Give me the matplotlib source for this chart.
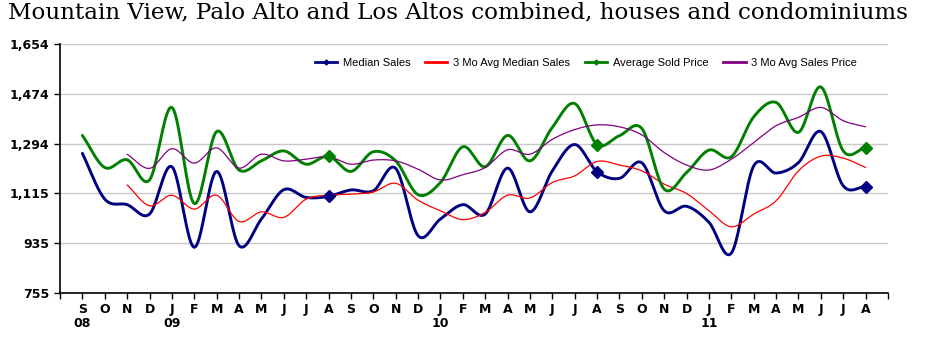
import numpy as np
import matplotlib.pyplot as plt
from matplotlib.ticker import FuncFormatter

# Sep 2008 .. Aug 2011
months = ['S', 'O', 'N', 'D', 'J', 'F', 'M', 'A', 'M', 'J', 'J', 'A',
          'S', 'O', 'N', 'D', 'J', 'F', 'M', 'A', 'M', 'J', 'J', 'A',
          'S', 'O', 'N', 'D', 'J', 'F', 'M', 'A', 'M', 'J', 'J', 'A']
years = {0: '08', 4: '09', 16: '10', 28: '11'}

median_sales = [1259, 1094, 1074, 1040, 1211, 920, 1194, 926, 1022, 1128, 1100, 1104,
                1127, 1124, 1205, 962, 1022, 1074, 1040, 1206, 1048, 1196, 1291, 1193,
                1169, 1225, 1052, 1068, 1010, 899, 1214, 1188, 1226, 1338, 1142, 1139]
avg_3mo_median = [None, None, 1145, 1070, 1108, 1058, 1108, 1013, 1048, 1028, 1094, 1108,
                  1112, 1120, 1151, 1090, 1052, 1020, 1046, 1108, 1098, 1154, 1178, 1230,
                  1217, 1196, 1148, 1114, 1052, 994, 1040, 1088, 1196, 1249, 1242, 1208]
avg_sold = [1324, 1208, 1236, 1163, 1425, 1078, 1338, 1199, 1232, 1268, 1220, 1249,
            1194, 1265, 1232, 1110, 1154, 1283, 1211, 1324, 1232, 1353, 1439, 1291,
            1323, 1349, 1130, 1190, 1271, 1247, 1391, 1443, 1335, 1499, 1268, 1280]
avg_3mo_sold = [None, None, 1256, 1205, 1276, 1224, 1279, 1206, 1256, 1232, 1238, 1247,
                1220, 1235, 1232, 1202, 1163, 1182, 1208, 1272, 1256, 1310, 1345, 1362,
                1355, 1326, 1262, 1217, 1199, 1238, 1298, 1359, 1389, 1425, 1377, 1355]
marker_idx = [11, 23, 35]  # the August points carry a diamond


def smooth(xs, ys, n=20):
    # catmull-rom, close enough to excel's smoothed line
    xs = np.asarray(xs, float)
    ys = np.asarray(ys, float)
    px = np.concatenate([[2 * xs[0] - xs[1]], xs, [2 * xs[-1] - xs[-2]]])
    py = np.concatenate([[2 * ys[0] - ys[1]], ys, [2 * ys[-1] - ys[-2]]])
    t = np.linspace(0, 1, n, endpoint=False)
    outx, outy = [], []
    for i in range(1, len(px) - 2):
        for p, out in ((px, outx), (py, outy)):
            p0, p1, p2, p3 = p[i - 1], p[i], p[i + 1], p[i + 2]
            out.extend(0.5 * (2 * p1 + (-p0 + p2) * t + (2 * p0 - 5 * p1 + 4 * p2 - p3) * t ** 2
                              + (-p0 + 3 * p1 - 3 * p2 + p3) * t ** 3))
    outx.append(xs[-1])
    outy.append(ys[-1])
    return np.array(outx), np.array(outy)


fig = plt.figure(figsize=(9.31, 3.47), dpi=100)
ax = fig.add_axes([60 / 931, 54 / 347, 828 / 931, 249 / 347])

series = [
    (median_sales, 'Median Sales', '#000080', 2.1, True),
    (avg_3mo_median, '3 Mo Avg Median Sales', '#ff0000', 0.9, False),
    (avg_sold, 'Average Sold Price', '#008000', 2.1, True),
    (avg_3mo_sold, '3 Mo Avg Sales Price', '#800080', 0.9, False),
]
for vals, label, color, lw, marks in series:
    idx = [i for i, v in enumerate(vals) if v is not None]
    sx, sy = smooth(idx, [vals[i] for i in idx])
    ax.plot(sx, sy, color=color, lw=lw, solid_capstyle='round', zorder=3)
    if marks:
        ax.plot(marker_idx, [vals[i] for i in marker_idx], ls='none', marker='D',
                ms=6, color=color, zorder=4)
        ax.plot([], [], color=color, lw=2, marker='D', ms=2.5, label=label)
    else:
        ax.plot([], [], color=color, lw=2, label=label)

ax.set_xlim(-1, 36)
ax.set_ylim(755, 1654)
ax.set_yticks([755, 935, 1115, 1294, 1474, 1654])
ax.yaxis.set_major_formatter(FuncFormatter(lambda v, p: f'{int(v):,}'))
ax.set_xticks(range(len(months)))
ax.set_xticks([-1, 36], minor=True)
ax.set_xticklabels([m + ('\n' + years[i] if i in years else '') for i, m in enumerate(months)],
                   va='top', linespacing=1.1)
ax.grid(axis='y', color='#c8c8c8', lw=1)
ax.set_axisbelow(True)

ax.spines['top'].set_visible(False)
ax.spines['right'].set_visible(False)
ax.spines['left'].set_linewidth(1.2)
ax.spines['bottom'].set_linewidth(1.2)
ax.tick_params(axis='both', length=4, width=1, labelsize=9)
ax.tick_params(axis='x', which='minor', length=4, width=1)
for lab in ax.get_xticklabels() + ax.get_yticklabels():
    lab.set_fontfamily('Liberation Sans Narrow')
    lab.set_fontweight('bold')

ax.legend(loc='center right', bbox_to_anchor=(857 / 931, 1 - 63 / 347),
          bbox_transform=fig.transFigure, ncol=4, frameon=False,
          borderpad=0, borderaxespad=0,
          prop={'family': 'Liberation Sans', 'size': 8}, handlelength=2.0,
          columnspacing=1.35, handletextpad=0.5)

fig.text(8 / 931, 1 - 12 / 347, 'Mountain View, Palo Alto and Los Altos combined, houses and condominiums',
         fontsize=16.6, family='DejaVu Serif', va='center', ha='left')

plt.savefig('out.png')
plt.close()
